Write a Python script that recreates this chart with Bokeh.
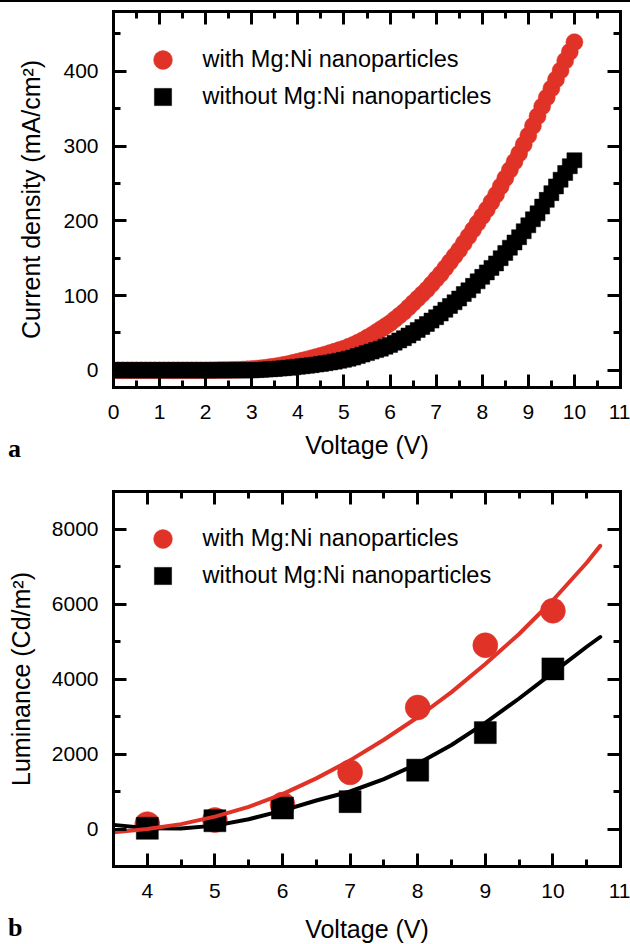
from bokeh.plotting import figure
from bokeh.models import (LinearAxis, SingleIntervalTicker, Range1d, Legend,
                          LegendItem, Div, CustomJSTickFormatter)
from bokeh.layouts import column
from bokeh.embed import file_html
from bokeh.resources import INLINE

RED = "#e03226"
BLACK = "#000000"
FONT = "Liberation Sans"

# ---------------- panel a : current density vs voltage ----------------
volt_a = [i / 10 for i in range(101)]
j_with = [
    0, 0, 0, 0, 0, 0, 0, 0, 0, 0,
    0, 0, 0, 0, 0, 0, 0, 0, 0, 0,
    0, 0.1, 0.2, 0.3, 0.4, 0.5, 0.6, 0.8, 1, 1.3,
    1.7, 2.2, 2.8, 3.5, 4.3, 5.2, 6.2, 7.3, 8.6, 10,
    11.5, 13, 14.6, 16.2, 17.8, 19.5, 21.3, 23.1, 25, 27,
    29, 31.5, 34, 37, 40, 43.5, 47, 51, 55, 59,
    63, 68, 73, 78, 84, 90, 96, 102, 108, 115,
    122, 129, 137, 145, 153, 161, 170, 179, 188, 197,
    206, 215, 225, 235, 246, 257, 268, 279, 290, 302,
    314, 327, 340, 353, 365, 377, 389, 401, 414, 426,
    439,
]
j_without = [
    0, 0, 0, 0, 0, 0, 0, 0, 0, 0,
    0, 0, 0, 0, 0, 0, 0, 0, 0, 0,
    0, 0, 0, 0, 0, 0, 0, 0, 0, 0,
    0, 0.3, 0.6, 1, 1.4, 1.8, 2.3, 2.8, 3.4, 4,
    4.7, 5.4, 6.1, 6.9, 7.7, 8.6, 9.5, 10.5, 11.6, 12.8,
    14, 15.5, 17, 19, 21, 23, 25, 27, 29, 31.5,
    34, 37, 40, 43, 46.5, 50, 54, 58, 62, 66.5,
    71, 76, 81, 86, 91, 96, 102, 107, 113, 119,
    125, 131, 137, 143, 150, 157, 164, 171, 178, 186,
    194, 202, 210, 219, 228, 237, 246, 255, 264, 273,
    281,
]

# ---------------- panel b : luminance vs voltage ----------------
volt_b = [4, 5, 6, 7, 8, 9, 10]
lum_with = [130, 240, 650, 1510, 3240, 4900, 5820]
lum_without = [20, 220, 560, 730, 1570, 2570, 4270]
fit_volt = [3.5, 4, 4.5, 5, 5.5, 6, 6.5, 7, 7.5, 8, 8.5, 9, 9.5, 10, 10.5, 10.7]
fit_with = [-90, 0, 130, 330, 590, 930, 1350, 1830, 2380, 2980, 3650, 4400,
            5200, 6100, 7100, 7550]
fit_without = [110, 20, 15, 90, 260, 490, 760, 1000, 1330, 1740, 2240, 2830,
               3480, 4170, 4860, 5120]

LEG1 = "with Mg:Ni nanoparticles"
LEG2 = "without Mg:Ni nanoparticles"

FRAME_W = 507
BLANK = CustomJSTickFormatter(code="return ''")


def make_fig(xr, yr, xint, yint, fh, top, bottom, xlabel, ylabel,
             xlab_standoff, ylab_standoff):
    p = figure(frame_width=FRAME_W, frame_height=fh,
               min_border_left=113, min_border_right=10,
               min_border_top=top, min_border_bottom=bottom,
               x_range=Range1d(*xr), y_range=Range1d(*yr),
               output_backend="svg", toolbar_location=None,
               x_axis_location=None, y_axis_location=None,
               outline_line_color=None)
    p.xgrid.visible = False
    p.ygrid.visible = False
    for place in ("below", "left", "above", "right"):
        tk = SingleIntervalTicker(interval=xint if place in ("below", "above") else yint,
                                  num_minor_ticks=2)
        ax = LinearAxis(ticker=tk)
        ax.axis_line_width = 3
        ax.axis_line_cap = "square"
        ax.major_tick_line_width = 3
        ax.minor_tick_line_width = 3
        ax.major_tick_out = 0
        ax.minor_tick_out = 0
        ax.major_tick_in = 13
        ax.minor_tick_in = 7
        ax.major_label_text_font = FONT
        ax.major_label_text_font_size = "21px"
        ax.major_label_text_color = "black"
        ax.axis_label_text_font = FONT
        ax.axis_label_text_font_size = "25px"
        ax.axis_label_text_font_style = "normal"
        ax.axis_label_text_color = "black"
        if place == "below":
            ax.axis_label = xlabel
            ax.major_label_standoff = 17
            ax.axis_label_standoff = xlab_standoff
        elif place == "left":
            ax.axis_label = ylabel
            ax.major_label_standoff = 15
            ax.axis_label_standoff = ylab_standoff
        else:
            ax.formatter = BLANK
            ax.major_label_standoff = 0
        p.add_layout(ax, place)
    return p


def add_legend(p, r1, r2):
    # one legend per entry, so the markers can be large while rows stay close
    common = dict(padding=0, margin=0, spacing=0,
                  label_text_font=FONT, label_text_font_size="23.5px",
                  label_text_color="black",
                  border_line_color=None, background_fill_alpha=0)
    lg1 = Legend(items=[LegendItem(label=LEG1, renderers=[r1])],
                 location=(25.5, 304.5), glyph_width=47, glyph_height=47,
                 label_standoff=17, **common)
    lg2 = Legend(items=[LegendItem(label=LEG2, renderers=[r2])],
                 location=(27.5, 269.5), glyph_width=43, glyph_height=43,
                 label_standoff=19, **common)
    p.add_layout(lg1)
    p.add_layout(lg2)


def letter_div(letter, top_shift, bottom_pad):
    # panel letter drawn over the lower-left corner of the figure above it
    return Div(text=letter, width=24, height=28,
               margin=(top_shift, 0, bottom_pad, 8),
               styles={"font-family": "Liberation Serif", "font-weight": "bold",
                       "font-size": "26px", "line-height": "28px",
                       "color": "black"})


# panel a
XR_A, YR_A = (0, 11), (-23, 480)
pa = make_fig(XR_A, YR_A, 1, 100, 376, 9, 83,
              "Voltage (V)", "Current density (mA/cm²)", 9, 15)
ra = pa.scatter(volt_a, j_with, marker="circle", size=17,
                fill_color=RED, line_color=RED, line_width=0.5)
rb = pa.scatter(volt_a, j_without, marker="square", size=15,
                fill_color=BLACK, line_color=BLACK, line_width=0.5)
add_legend(pa, ra, rb)

# panel b
XR_B, YR_B = (3.5, 11), (-1000, 9000)
pb = make_fig(XR_B, YR_B, 1, 2000, 375, 21, 78,
              "Voltage (V)", "Luminance (Cd/m²)", 14, 14)
rc = pb.scatter(volt_b, lum_with, marker="circle", size=25,
                fill_color=RED, line_color=RED, line_width=0.5)
rd = pb.scatter(volt_b, lum_without, marker="square", size=22,
                fill_color=BLACK, line_color=BLACK, line_width=0.5)
pb.line(fit_volt, fit_without, line_color=BLACK, line_width=4,
        line_join="round", line_cap="round")
pb.line(fit_volt, fit_with, line_color=RED, line_width=4,
        line_join="round", line_cap="round")
add_legend(pb, rc, rd)

rule = Div(text="", width=630, height=2, margin=0,
           styles={"background-color": "black"})

layout = column(rule, pa, letter_div("a", -35, 7), pb,
                letter_div("b", -31, 3), spacing=0)

with open("out.html", "w") as f:
    f.write(file_html(layout, INLINE))
